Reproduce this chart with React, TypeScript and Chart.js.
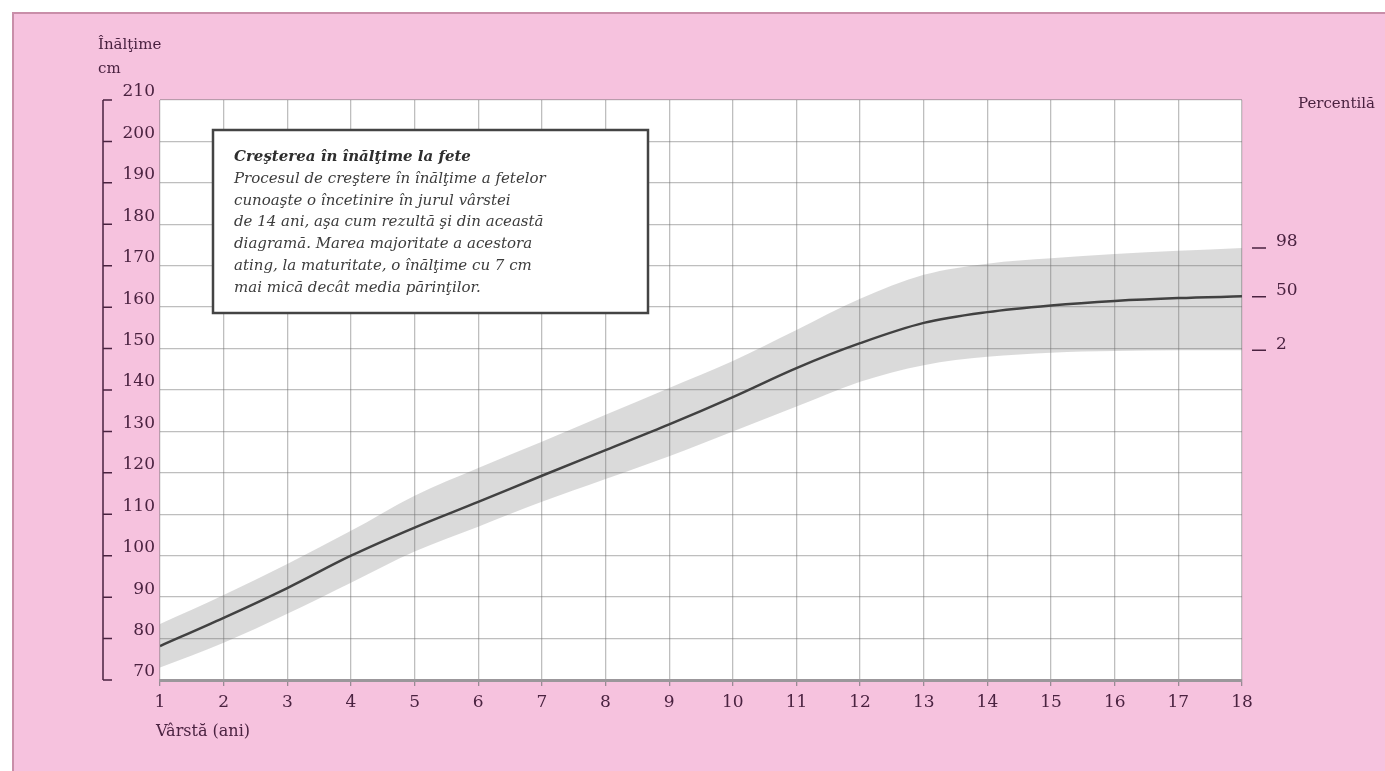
import React, { useEffect, useRef } from "react";
import { Chart, registerables } from "chart.js";

Chart.register(...registerables);

// ---- data ----
const ages = [1, 2, 3, 4, 5, 6, 7, 8, 9, 10, 11, 12, 13, 14, 15, 16, 17, 18];
const p50 = [78.2, 85, 92.2, 100, 106.8, 113, 119.3, 125.5, 131.7, 138.3, 145.3, 151.3, 156.2, 158.8, 160.4, 161.5, 162.2, 162.6];
const p98 = [83.5, 90.5, 98, 106, 114.5, 121.2, 127.5, 134, 140.5, 147, 154.5, 162, 167.8, 170.5, 171.8, 172.8, 173.6, 174.3];
const p2 = [73, 79, 86, 93.5, 101, 107, 113, 118.5, 124, 130, 136, 142, 146, 148, 149, 149.4, 149.6, 149.6];
const percentileTicks = [149.6, 162.5, 174.3];
const percentileLabels = ["2", "50", "98"];

const yAxisTitle = ["Înălţime", "cm"];
const rightTitle = "Percentilă";
const xAxisTitle = "Vârstă (ani)";
const boxTitle = "Creşterea în înălţime la fete";
const boxLines = [
  "Procesul de creştere în înălţime a fetelor",
  "cunoaşte o încetinire în jurul vârstei",
  "de 14 ani, aşa cum rezultă şi din această",
  "diagramă. Marea majoritate a acestora",
  "ating, la maturitate, o înălţime cu 7 cm",
  "mai mică decât media părinţilor.",
];

const W = 1385;
const H = 771;
const FONT = "'DejaVu Serif', 'Liberation Serif', serif";
const TEXT = "#4a2240";
const PINK = "#f6c2de";
const GRID = "rgba(110,110,110,0.45)";

const toPts = (vals: number[]) => ages.map((a, i) => ({ x: a, y: vals[i] }));

export default function App() {
  const ref = useRef<HTMLCanvasElement | null>(null);

  useEffect(() => {
    if (!ref.current) return;

    const decor = {
      id: "decor",
      beforeDraw(chart: any) {
        const { ctx, chartArea } = chart;
        ctx.save();
        ctx.fillStyle = "#ffffff";
        ctx.fillRect(0, 0, W, H);
        ctx.fillStyle = PINK;
        ctx.fillRect(12, 12, W - 12, H - 12);
        ctx.strokeStyle = "#c98ea9";
        ctx.lineWidth = 2;
        ctx.beginPath();
        ctx.moveTo(13, H);
        ctx.lineTo(13, 13);
        ctx.lineTo(W, 13);
        ctx.stroke();
        ctx.fillStyle = "#ffffff";
        ctx.fillRect(chartArea.left, chartArea.top, chartArea.right - chartArea.left, chartArea.bottom - chartArea.top);
        ctx.restore();
      },
      afterDraw(chart: any) {
        const { ctx, chartArea, scales } = chart;
        const y = scales.y;
        ctx.save();
        // left bracket axis with ticks
        ctx.strokeStyle = TEXT;
        ctx.lineWidth = 1.5;
        const lx = 103;
        ctx.beginPath();
        ctx.moveTo(lx, y.getPixelForValue(210));
        ctx.lineTo(lx, y.getPixelForValue(70));
        for (let v = 70; v <= 210; v += 10) {
          const py = y.getPixelForValue(v);
          ctx.moveTo(lx, py);
          ctx.lineTo(lx + 9, py);
        }
        ctx.stroke();
        // right percentile tick marks
        const y2 = scales.y2;
        ctx.beginPath();
        percentileTicks.forEach((v) => {
          const py = y2.getPixelForValue(v);
          ctx.moveTo(chartArea.right + 10, py);
          ctx.lineTo(chartArea.right + 24, py);
        });
        ctx.stroke();

        // titles
        ctx.fillStyle = TEXT;
        ctx.font = `15px ${FONT}`;
        ctx.textBaseline = "middle";
        ctx.textAlign = "left";
        ctx.fillText(yAxisTitle[0], 98, 45);
        ctx.fillText(yAxisTitle[1], 98, 69);
        ctx.fillText(rightTitle, 1298, 104);
        ctx.font = `16px ${FONT}`;
        ctx.fillText(xAxisTitle, 156, 732);

        // annotation box
        const bx = 213, by = 130, bw = 435, bh = 183;
        ctx.fillStyle = "#ffffff";
        ctx.fillRect(bx, by, bw, bh);
        ctx.strokeStyle = "#444444";
        ctx.lineWidth = 2.5;
        ctx.strokeRect(bx, by, bw, bh);
        ctx.fillStyle = "#2e2e2e";
        ctx.font = `italic bold 15px ${FONT}`;
        ctx.fillText(boxTitle, 234, 157);
        ctx.fillStyle = "#3c3c3c";
        ctx.font = `italic 15px ${FONT}`;
        boxLines.forEach((t, i) => ctx.fillText(t, 234, 179 + i * 21.8));
        ctx.restore();
      },
    };

    const chart = new Chart(ref.current, {
      type: "line",
      data: {
        datasets: [
          {
            label: "P2",
            data: toPts(p2),
            borderWidth: 0,
            pointRadius: 0,
            fill: false,
            cubicInterpolationMode: "monotone",
          },
          {
            label: "P98",
            data: toPts(p98),
            borderWidth: 0,
            pointRadius: 0,
            fill: "-1",
            backgroundColor: "rgba(120,120,120,0.27)",
            cubicInterpolationMode: "monotone",
          },
          {
            label: "P50",
            data: toPts(p50),
            borderColor: "#2e2e2e",
            borderWidth: 2.5,
            pointRadius: 0,
            fill: false,
            cubicInterpolationMode: "monotone",
          },
        ],
      },
      options: {
        responsive: false,
        animation: false,
        layout: { padding: { top: 100, left: 0, right: 0, bottom: 0 } },
        plugins: { legend: { display: false }, tooltip: { enabled: false }, title: { display: false } },
        scales: {
          x: {
            type: "linear",
            position: "bottom",
            min: 1,
            max: 18,
            ticks: { stepSize: 1, color: TEXT, font: { family: FONT, size: 17 }, padding: 6 },
            grid: { color: GRID, lineWidth: 1.3, drawTicks: true, tickLength: 6, tickColor: "#9a8a95" },
            border: { display: true, color: "#9b979b", width: 3 },
            afterFit: (s: any) => {
              s.height = 91;
            },
          },
          y: {
            type: "linear",
            position: "left",
            min: 70,
            max: 210,
            ticks: { stepSize: 10, color: TEXT, font: { family: FONT, size: 17 }, padding: 5, labelOffset: -8 },
            grid: { color: GRID, lineWidth: 1.3, drawTicks: false },
            border: { display: false },
            afterFit: (s: any) => {
              s.width = 160;
            },
          },
          y2: {
            type: "linear",
            position: "right",
            min: 70,
            max: 210,
            afterBuildTicks: (s: any) => {
              s.ticks = percentileTicks.map((v) => ({ value: v }));
            },
            ticks: {
              color: TEXT,
              font: { family: FONT, size: 17 },
              padding: 26,
              labelOffset: -6,
              callback: (v: any) => {
                const i = percentileTicks.indexOf(Number(v));
                return i >= 0 ? percentileLabels[i] : "";
              },
            },
            grid: { display: false, drawOnChartArea: false },
            border: { display: false },
            afterFit: (s: any) => {
              s.width = W - 1242;
            },
          },
        },
      },
      plugins: [decor],
    } as any);

    return () => chart.destroy();
  }, []);

  return (
    <div style={{ position: "fixed", left: 0, top: 0, width: W, height: H }}>
      <canvas ref={ref} width={W} height={H} style={{ display: "block" }} />
    </div>
  );
}
